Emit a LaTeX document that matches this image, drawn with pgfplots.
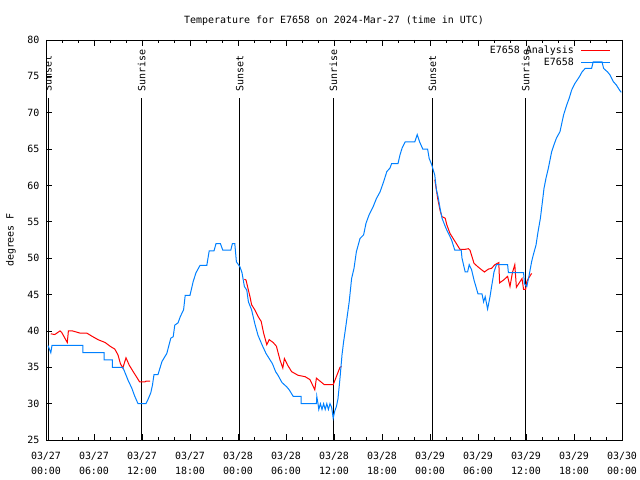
\documentclass[border=0pt]{standalone}
\usepackage{fontspec}
\setmainfont{DejaVu Sans Mono}
\usepackage{pgfplots}
\pgfplotsset{compat=1.18}
\definecolor{obsblue}{RGB}{0,128,255}
\definecolor{anared}{RGB}{255,0,0}
\begin{document}
\fontsize{10}{12}\selectfont
\begin{tikzpicture}
\useasboundingbox (0,0) rectangle (640bp,480bp);
\begin{axis}[
  at={(46bp,40bp)}, anchor=south west,
  scale only axis, width=576bp, height=400bp,
  xmin=0, xmax=72, ymin=25, ymax=80,
  xtick={0,6,...,72},
  xticklabels={{03/27\\00:00},{03/27\\06:00},{03/27\\12:00},{03/27\\18:00},
               {03/28\\00:00},{03/28\\06:00},{03/28\\12:00},{03/28\\18:00},
               {03/29\\00:00},{03/29\\06:00},{03/29\\12:00},{03/29\\18:00},
               {03/30\\00:00}},
  minor x tick num=2,
  ytick={25,30,...,80},
  tick pos=both, tick align=inside,
  major tick length=6bp, minor tick length=3bp,
  every tick/.style={black, line width=0.8bp},
  axis line style={line width=0.8bp},
  xticklabel style={align=center, font=\fontsize{10}{15}\selectfont, yshift=-9bp},
  yticklabel style={xshift=-3bp},
  /pgf/number format/assume math mode=true,
  title={Temperature for E7658 on 2024-Mar-27 (time in UTC)},
  title style={at={(axis description cs:0.5,1)}, anchor=center, yshift=13bp},
  ylabel={degrees F},
  ylabel style={at={(axis description cs:-0.0608,0.5)}, anchor=center},
  legend style={draw=none, fill=none, at={(rel axis cs:1,1)}, anchor=north east,
    xshift=-8bp, yshift=-3bp, row sep=1bp,
    nodes={inner sep=1bp, text height=7bp, text depth=2bp}},
  legend cell align=right,
  legend plot pos=right,
  legend image code/.code={\path (0bp,0bp); \draw[#1] (6bp,0bp) -- (35bp,0bp);},
]
% sunrise / sunset markers
\addplot[black, line width=1bp, forget plot] coordinates {(0.25,25) (0.25,72)};
\addplot[black, line width=1bp, forget plot] coordinates {(11.97,25) (11.97,72)};
\addplot[black, line width=1bp, forget plot] coordinates {(24.22,25) (24.22,72)};
\addplot[black, line width=1bp, forget plot] coordinates {(35.92,25) (35.92,72)};
\addplot[black, line width=1bp, forget plot] coordinates {(48.32,25) (48.32,72)};
\addplot[black, line width=1bp, forget plot] coordinates {(59.97,25) (59.97,72)};
\node[rotate=90, anchor=west, inner sep=0pt] at (axis cs:0.25,72.9) {Sunset};
\node[rotate=90, anchor=west, inner sep=0pt] at (axis cs:11.97,72.9) {Sunrise};
\node[rotate=90, anchor=west, inner sep=0pt] at (axis cs:24.22,72.9) {Sunset};
\node[rotate=90, anchor=west, inner sep=0pt] at (axis cs:35.92,72.9) {Sunrise};
\node[rotate=90, anchor=west, inner sep=0pt] at (axis cs:48.32,72.9) {Sunset};
\node[rotate=90, anchor=west, inner sep=0pt] at (axis cs:59.97,72.9) {Sunrise};

% analysis (three pieces)
\addplot[anared, line width=1bp] coordinates {
(0.6,39.6) (1.1,39.5) (1.75,40) (1.96,39.8) (2.66,38.4) (2.8,40) (3.3,40)
(4.25,39.7) (5.1,39.7) (5.7,39.3) (6.5,38.8) (7.4,38.4) (8,37.9) (8.6,37.5)
(9,36.7) (9.3,35.5) (9.6,34.9) (10,36.3) (10.4,35.3) (10.9,34.4) (11.3,33.7)
(11.7,33) (12.4,33) (12.5,33.1) (13,33.1)};
\addlegendentry{E7658 Analysis}
\addplot[anared, line width=1bp, forget plot] coordinates {
(24.8,47.1) (25,47) (25.3,45.6) (25.5,44.7) (25.7,43.6) (26.1,42.9) (26.5,42)
(26.9,41.3) (27.2,39.7) (27.6,38.1) (27.9,38.8) (28.4,38.4) (28.8,37.9)
(29.25,36) (29.6,34.9) (29.8,36.2) (30.2,35.3) (30.7,34.4) (31.5,33.9)
(32.4,33.7) (33,33.3) (33.6,31.9) (33.8,33.5) (34.8,32.6) (35.9,32.6)
(36.75,35) (36.95,35.1)};
\addplot[anared, line width=1bp, forget plot] coordinates {
(48.6,60.8) (48.8,59.4) (48.96,58.2) (49.25,56.6) (49.5,55.7) (49.9,55.5)
(50.1,54.6) (50.5,53.4) (50.9,52.7) (51.3,52) (51.75,51.2) (52.3,51.2)
(52.8,51.3) (53,51.1) (53.5,49.3) (54,48.8) (54.8,48.1) (55.3,48.5)
(55.7,48.6) (56.1,49.1) (56.6,49.4) (56.7,46.6) (57.2,47) (57.7,47.5)
(58,46.1) (58.3,48) (58.6,49.1) (58.8,46) (59.5,47.2) (59.7,45.7)
(59.95,45.7) (60.1,46.8) (60.3,47.2) (60.7,47.9)};

% observations
\addplot[obsblue, line width=1bp] coordinates {
(0.25,38) (0.6,37) (0.75,38) (4.6,38) (4.6,37) (7.25,37) (7.25,36) (8.3,36)
(8.3,35) (9.6,35) (9.9,34.2) (10.3,33.1) (10.7,32.2) (11.1,31) (11.5,30)
(12.5,30) (12.8,30.7) (13.1,31.5) (13.3,32.5) (13.5,34) (14,34) (14.5,35.8)
(15.1,36.9) (15.6,39) (15.9,39.2) (16.1,40.8) (16.5,41.1) (16.8,42)
(17.2,42.9) (17.4,44.9) (18,44.9) (18.4,46.8) (18.75,48) (19.25,49)
(20.1,49) (20.4,51) (21,51) (21.25,52) (21.8,52) (22.1,51.1) (23.1,51.1)
(23.3,52) (23.6,52) (23.8,49.5) (24.25,48.8) (24.5,48) (24.8,46.1)
(25.1,45.6) (25.3,44) (25.7,42.9) (26.1,41) (26.5,39.4) (27,38.1)
(27.5,36.9) (27.9,36.2) (28.3,35.5) (28.7,34.4) (29,33.9) (29.5,32.9)
(30.1,32.3) (30.4,31.9) (30.9,31) (31.9,31) (31.9,30) (33.8,30) (33.85,31)
(34,30) (34.1,29.2) (34.3,30) (34.5,29.2) (34.7,30) (34.9,29.2) (35.1,30)
(35.3,29.2) (35.5,30) (35.7,29.5) (35.9,28) (36.1,29) (36.3,29.6)
(36.5,30.7) (36.75,33.5) (37,36.7) (37.2,38.5) (37.5,40.8) (37.9,44)
(38.2,47.2) (38.5,48.6) (38.8,50.9) (39.25,52.7) (39.7,53.2) (40,54.8)
(40.4,56) (40.9,57.1) (41.3,58.2) (41.75,59.1) (42.2,60.5) (42.6,61.9)
(43,62.4) (43.2,63) (44,63) (44.25,64.2) (44.5,65.1) (44.9,66) (46.1,66)
(46.4,67) (46.7,66) (47.1,65) (47.7,65) (47.9,63.7) (48.2,62.9) (48.6,61.4)
(48.8,59.4) (49,58.5) (49.25,56.9) (49.5,55.5) (50,54.1) (50.4,53.2)
(50.7,52.5) (51.1,51.1) (51.9,51.1) (52,50) (52.4,48.1) (52.7,48.1)
(52.9,49.1) (53.2,48.4) (53.5,47) (54,45.1) (54.5,45.1) (54.7,44)
(54.9,44.7) (55.2,43) (55.5,44.7) (55.7,46.1) (56,48.1) (56.3,49.1)
(57.7,49.1) (57.8,48) (59.7,48) (59.8,46.5) (60.1,46.1) (60.4,47.7)
(60.7,49.5) (60.9,50.4) (61.25,51.8) (61.5,53.6) (61.8,55.5) (62.1,58.2)
(62.25,59.6) (62.5,61) (62.8,62.4) (63.2,64.6) (63.5,65.6) (63.8,66.5)
(64.25,67.4) (64.7,69.7) (65.1,71.1) (65.4,72) (65.7,73.1) (66.1,74)
(66.7,75) (67,75.6) (67.4,76.1) (68.2,76.1) (68.4,77) (69.5,77) (69.7,76.1)
(70.2,75.6) (70.5,75.2) (70.9,74.3) (71.3,73.8) (71.7,73.1) (71.9,72.8)};
\addlegendentry{E7658}
\end{axis}
\end{tikzpicture}
\end{document}
